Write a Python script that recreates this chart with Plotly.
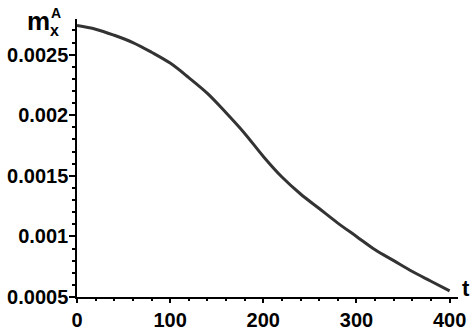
import plotly.graph_objects as go

t_values = [0, 20, 40, 60, 80, 100, 120, 140, 160, 180, 200, 220, 240, 260, 280, 300, 320, 340, 360, 380, 400]
m_values = [0.00274, 0.00271, 0.00266, 0.00260, 0.00252, 0.00243, 0.00231, 0.00218, 0.00202, 0.00185, 0.00166,
            0.00149, 0.00135, 0.00123, 0.00111, 0.00100, 0.00089, 0.00080, 0.00071, 0.00063, 0.00055]
x_ticks = [0, 100, 200, 300, 400]
y_ticks = [0.0005, 0.001, 0.0015, 0.002, 0.0025]
y_tick_labels = ["0.0005", "0.001", "0.0015", "0.002", "0.0025"]

FONT = "Liberation Sans, Arial, sans-serif"

fig = go.Figure()
fig.add_trace(go.Scatter(x=t_values, y=m_values, mode="lines",
                         line=dict(color="#333333", width=3, shape="spline", smoothing=1.0),
                         showlegend=False, hoverinfo="skip"))

fig.update_layout(
    width=473, height=332,
    margin=dict(l=77, r=15, t=19, b=35),
    paper_bgcolor="white", plot_bgcolor="white",
    font=dict(family=FONT, color="black"),
    xaxis=dict(range=[0, 409], tickvals=x_ticks, ticktext=[str(v) for v in x_ticks], automargin=False,
               showline=True, linecolor="black", linewidth=1.5, showgrid=False, zeroline=False,
               ticks="outside", ticklen=4, tickwidth=1.5, tickcolor="black",
               tickfont=dict(family=FONT, size=20, color="black", weight="bold"),
               minor=dict(dtick=20, tick0=0, ticks="outside", ticklen=2, tickwidth=1.5, tickcolor="black")),
    yaxis=dict(range=[0.0005, 0.002794], tickvals=y_ticks, ticktext=y_tick_labels, automargin=False,
               showline=True, linecolor="black", linewidth=1.5, showgrid=False, zeroline=False,
               ticks="outside", ticklen=6, tickwidth=1.5, tickcolor="black",
               ticklabelstandoff=-3,
               tickfont=dict(family=FONT, size=20, color="black", weight="bold"),
               minor=dict(dtick=0.0001, tick0=0.0005, ticks="outside", ticklen=3, tickwidth=1.5, tickcolor="black")),
)

fig.add_annotation(xref="paper", yref="paper", x=-0.136, y=0.993, xanchor="left", yanchor="middle",
                   text="m", showarrow=False, font=dict(family=FONT, size=26, color="black", weight="bold"))
fig.add_annotation(xref="paper", yref="paper", x=-0.075, y=0.957, xanchor="left", yanchor="middle",
                   text="x", showarrow=False, font=dict(family=FONT, size=16, color="black", weight="bold"))
fig.add_annotation(xref="paper", yref="paper", x=-0.073, y=1.023, xanchor="left", yanchor="middle",
                   text="A", showarrow=False, font=dict(family=FONT, size=14, color="black", weight="bold"))
fig.add_annotation(xref="paper", yref="paper", x=1.021, y=0.032, xanchor="center", yanchor="middle",
                   text="t", showarrow=False, font=dict(family=FONT, size=22, color="black", weight="bold"))

fig.write_html("out.html", config={"displayModeBar": False},
               post_script="document.body.style.margin='0';")
